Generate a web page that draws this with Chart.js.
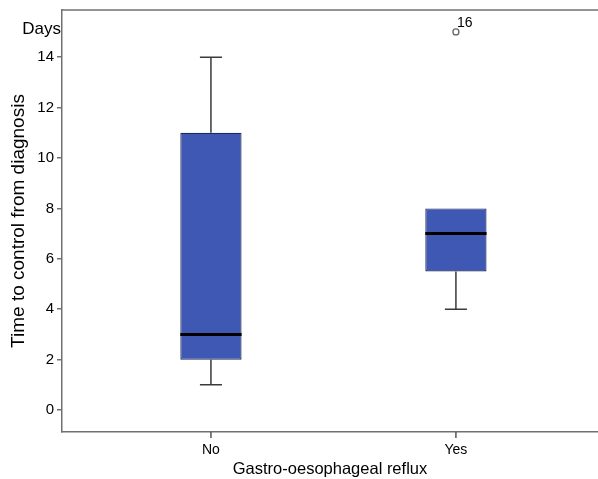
<!DOCTYPE html>
<html>
<head>
<meta charset="utf-8">
<script src="https://cdn.jsdelivr.net/npm/chart.js@4"></script>
<style>
  html, body { margin: 0; padding: 0; background: #fff; overflow: hidden; }
  #wrap { width: 598px; height: 479px; }
  canvas { display: block; }
</style>
</head>
<body>
<div id="wrap"><canvas id="graphique-boites"></canvas></div>
<script>
const categories = ["No", "Yes"];
const whiskerLow = [1, 4];
const q1 = [2, 5.5];
const medians = [3, 7];
const q3 = [11, 8];
const whiskerHigh = [14, 8];
const outlierValues = [null, 15];
const outlierLabels = [null, "16"];
const yTicks = [0, 2, 4, 6, 8, 10, 12, 14];

const police = "'Liberation Sans', Arial, sans-serif";

// whiskers, median, frame and labels, drawn from the bar elements and the scales
const boitesPlugin = {
    id: "boites",
    afterDatasetsDraw(chart) {
        const ctx = chart.ctx;
        const y = chart.scales.y;
        const x = chart.scales.x;
        const meta = chart.getDatasetMeta(0);
        ctx.save();
        for (let i = 0; i < categories.length; i++) {
            const barre = meta.data[i];
            const cx = barre.x;
            const demi = barre.width / 2;
            const cap = barre.width * 0.18;

            ctx.strokeStyle = "#3a3a3a";
            ctx.lineWidth = 1.5;
            ctx.beginPath();
            if (whiskerHigh[i] > q3[i]) {
                ctx.moveTo(cx, y.getPixelForValue(q3[i]));
                ctx.lineTo(cx, y.getPixelForValue(whiskerHigh[i]));
                ctx.moveTo(cx - cap, y.getPixelForValue(whiskerHigh[i]));
                ctx.lineTo(cx + cap, y.getPixelForValue(whiskerHigh[i]));
            }
            if (whiskerLow[i] < q1[i]) {
                ctx.moveTo(cx, y.getPixelForValue(q1[i]));
                ctx.lineTo(cx, y.getPixelForValue(whiskerLow[i]));
                ctx.moveTo(cx - cap, y.getPixelForValue(whiskerLow[i]));
                ctx.lineTo(cx + cap, y.getPixelForValue(whiskerLow[i]));
            }
            ctx.stroke();

            ctx.strokeStyle = "#000";
            ctx.lineWidth = 3;
            ctx.beginPath();
            ctx.moveTo(cx - demi, y.getPixelForValue(medians[i]));
            ctx.lineTo(cx + demi, y.getPixelForValue(medians[i]));
            ctx.stroke();
        }

        const metaPoints = chart.getDatasetMeta(1);
        ctx.fillStyle = "#000";
        ctx.font = "14px " + police;
        ctx.textAlign = "left";
        ctx.textBaseline = "middle";
        for (let i = 0; i < categories.length; i++) {
            if (outlierLabels[i] === null) continue;
            const p = metaPoints.data[i];
            ctx.fillText(outlierLabels[i], p.x + 1, p.y - 9);
        }

        const zone = chart.chartArea;
        ctx.strokeStyle = "#707070";
        ctx.lineWidth = 1.5;
        ctx.beginPath();
        ctx.moveTo(zone.left, zone.top);
        ctx.lineTo(zone.right, zone.top);
        ctx.stroke();

        // tick marks under the category axis
        ctx.strokeStyle = "#555";
        ctx.lineWidth = 1.5;
        for (let i = 0; i < categories.length; i++) {
            const px = x.getPixelForValue(i + 1);
            ctx.beginPath();
            ctx.moveTo(px, zone.bottom);
            ctx.lineTo(px, zone.bottom + 6);
            ctx.stroke();
        }

        ctx.fillStyle = "#000";
        ctx.font = "17px " + police;
        ctx.textAlign = "right";
        ctx.textBaseline = "middle";
        ctx.fillText("Days", zone.left - 1, zone.top + 19);
        ctx.restore();
    }
};

const data = {
    datasets: [{
        type: "bar",
        label: "boites",
        data: categories.map((c, i) => ({ x: i + 1, y: [q1[i], q3[i]] })),
        backgroundColor: "#3f58b4",
        borderColor: "#1c2860",
        borderWidth: 1.2,
        borderSkipped: false,
        categoryPercentage: 1,
        barPercentage: 0.25,
    }, {
        type: "scatter",
        label: "valeurs extrêmes",
        data: categories.map((c, i) => ({ x: i + 1, y: outlierValues[i] })),
        pointStyle: "circle",
        pointRadius: 3,
        pointBorderWidth: 1.3,
        pointBackgroundColor: "#fff",
        pointBorderColor: "#666",
    }]
};

const config = {
    data: data,
    plugins: [boitesPlugin],
    options: {
        responsive: true,
        maintainAspectRatio: false,
        animation: false,
        layout: { autoPadding: false, padding: { top: 10, right: 0, left: 0, bottom: 0 } },
        plugins: {
            legend: { display: false },
            tooltip: { enabled: false },
        },
        scales: {
            x: {
                type: "linear",
                offset: false,
                min: 0.392,
                max: 2.58,
                afterBuildTicks: (axe) => { axe.ticks = categories.map((c, i) => ({ value: i + 1 })); },
                afterFit: (axe) => { axe.height = 47; axe.paddingRight = 0; axe.paddingLeft = 0; },
                ticks: {
                    callback: (v) => categories[v - 1],
                    color: "#000",
                    font: { family: police, size: 14 },
                    padding: 2,
                },
                grid: { display: false },
                border: { color: "#707070", width: 1.5 },
                title: {
                    display: true,
                    text: "Gastro-oesophageal reflux",
                    color: "#000",
                    font: { family: police, size: 16.5 },
                    padding: { top: 0, bottom: 0 },
                },
            },
            y: {
                min: -0.87,
                max: 15.87,
                afterBuildTicks: (axe) => { axe.ticks = yTicks.map(v => ({ value: v })); },
                afterFit: (axe) => { axe.width = 62; axe.paddingTop = 0; axe.paddingBottom = 0; },
                ticks: {
                    color: "#000",
                    font: { family: police, size: 15 },
                    padding: 3,
                },
                grid: { drawOnChartArea: false, drawTicks: true, tickLength: 5, color: "#707070", lineWidth: 1.5 },
                border: { color: "#707070", width: 1.5 },
                title: {
                    display: true,
                    text: "Time to control from diagnosis",
                    color: "#000",
                    font: { family: police, size: 19 },
                    padding: { top: 7, bottom: 0 },
                },
            },
        },
    },
};

const graphique = new Chart(document.querySelector("#graphique-boites"), config);
</script>
</body>
</html>
